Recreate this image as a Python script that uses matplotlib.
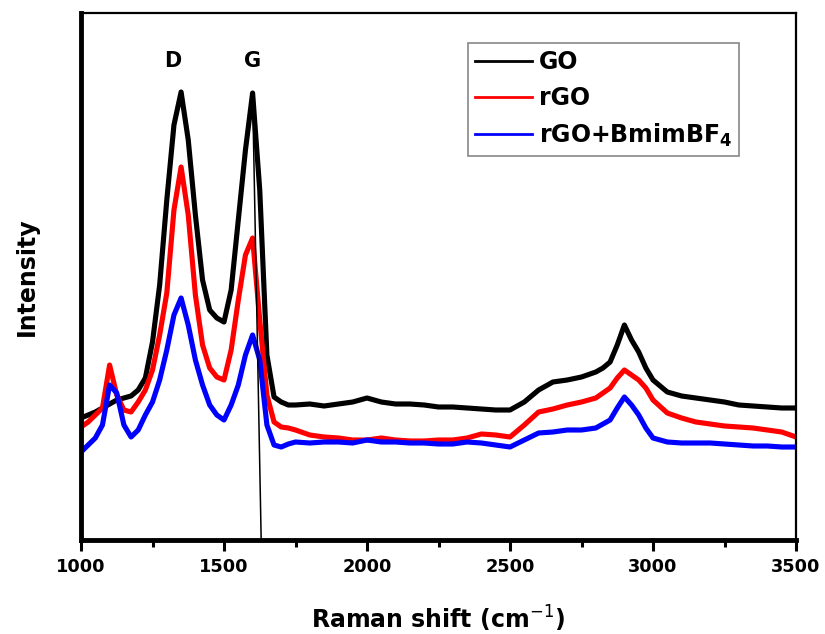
import numpy as np
import matplotlib
matplotlib.use("Agg")
import matplotlib.pyplot as plt
from matplotlib.ticker import MultipleLocator

# Raman shift grid (cm^-1)
shift = [1000, 1025, 1050, 1075, 1100, 1125, 1150, 1175, 1200, 1225,
         1250, 1275, 1300, 1325, 1350, 1375, 1400, 1425, 1450, 1475,
         1500, 1525, 1550, 1575, 1600, 1625, 1650, 1675, 1700, 1725,
         1750, 1800, 1850, 1900, 1950, 2000, 2050, 2100, 2150, 2200,
         2250, 2300, 2350, 2400, 2450, 2500, 2550, 2600, 2650, 2700,
         2750, 2800, 2825, 2850, 2875, 2900, 2925, 2950, 2975, 3000,
         3050, 3100, 3150, 3200, 3250, 3300, 3350, 3400, 3450, 3500]

# intensities (arbitrary units)
go = [122, 125, 128, 132, 136, 140, 142, 144, 150, 162,
      198, 255, 340, 415, 448, 400, 325, 260, 230, 222,
      218, 250, 320, 390, 447, 350, 185, 143, 138, 135,
      135, 136, 134, 136, 138, 142, 138, 136, 136, 135,
      133, 133, 132, 131, 130, 130, 138, 150, 158, 160,
      163, 168, 172, 178, 195, 215, 200, 188, 172, 160,
      148, 144, 142, 140, 138, 135, 134, 133, 132, 132]

rgo = [113, 118, 125, 132, 175, 145, 130, 128, 138, 150,
       170, 205, 247, 330, 373, 325, 245, 195, 172, 163,
       160, 190, 240, 285, 302, 220, 145, 118, 113, 112,
       110, 105, 103, 102, 100, 100, 102, 100, 99, 99,
       100, 100, 102, 106, 105, 103, 115, 128, 131, 135,
       138, 142, 147, 152, 162, 170, 165, 160, 152, 140,
       127, 122, 118, 116, 114, 113, 112, 110, 108, 103]

rgo_il = [88, 95, 102, 115, 155, 147, 115, 103, 110, 125,
          138, 160, 190, 225, 242, 215, 180, 155, 135, 125,
          120, 135, 155, 185, 205, 180, 115, 95, 93, 96,
          98, 97, 98, 98, 97, 100, 98, 98, 97, 97,
          96, 96, 98, 97, 95, 93, 100, 107, 108, 110,
          110, 112, 116, 120, 132, 143, 135, 125, 112, 102,
          98, 97, 97, 97, 96, 95, 94, 94, 93, 93]

# stray line from the G peak down to the axis
stray_x = [1600, 1630]
stray_y = [447, 0]

series = [("GO", go, "black"), ("rGO", rgo, "red"),
          (r"rGO+BmimBF$_\mathbf{4}$", rgo_il, "blue")]

fig = plt.figure(figsize=(8.25, 6.34), dpi=100)
ax = fig.add_axes([81 / 825, 1 - 540 / 634, 715 / 825, 527 / 634])

for name, vals, col in series:
    ax.plot(shift, vals, color=col, lw=3.7, label=name)
ax.plot(stray_x, stray_y, color="black", lw=1.1)

ax.set_xlim(1000, 3500)
ax.set_ylim(0, 527)
ax.xaxis.set_major_locator(MultipleLocator(500))
ax.xaxis.set_minor_locator(MultipleLocator(250))
ax.tick_params(axis="x", which="major", direction="out", length=8, width=2.2,
               labelsize=12.8, pad=5)
ax.tick_params(axis="x", which="minor", direction="out", length=5, width=2.2)
ax.tick_params(axis="y", which="both", left=False, labelleft=False)
for lab in ax.get_xticklabels():
    lab.set_fontweight("bold")

ax.spines["left"].set_linewidth(3.5)
ax.spines["bottom"].set_linewidth(3.5)
ax.spines["top"].set_linewidth(1.6)
ax.spines["right"].set_linewidth(1.6)

ax.set_xlabel(r"Raman shift (cm$^{-1}$)", fontsize=17, fontweight="bold",
              labelpad=20)
ax.set_ylabel("Intensity", fontsize=17, fontweight="bold", labelpad=30)

ax.text(1322, 479, "D", fontsize=15, fontweight="bold", ha="center", va="center")
ax.text(1601, 479, "G", fontsize=15, fontweight="bold", ha="center", va="center")

leg = ax.legend(loc="upper left", bbox_to_anchor=(0.541, 0.943),
                borderaxespad=0, fancybox=False, framealpha=1,
                edgecolor="#888888", handlelength=2.4, handletextpad=0.3,
                labelspacing=0.5, borderpad=0.3,
                prop={"size": 17, "weight": "bold"})
for line in leg.get_lines():
    line.set_linewidth(2)
leg.get_frame().set_linewidth(1.2)

fig.savefig("out.png", dpi=100)
